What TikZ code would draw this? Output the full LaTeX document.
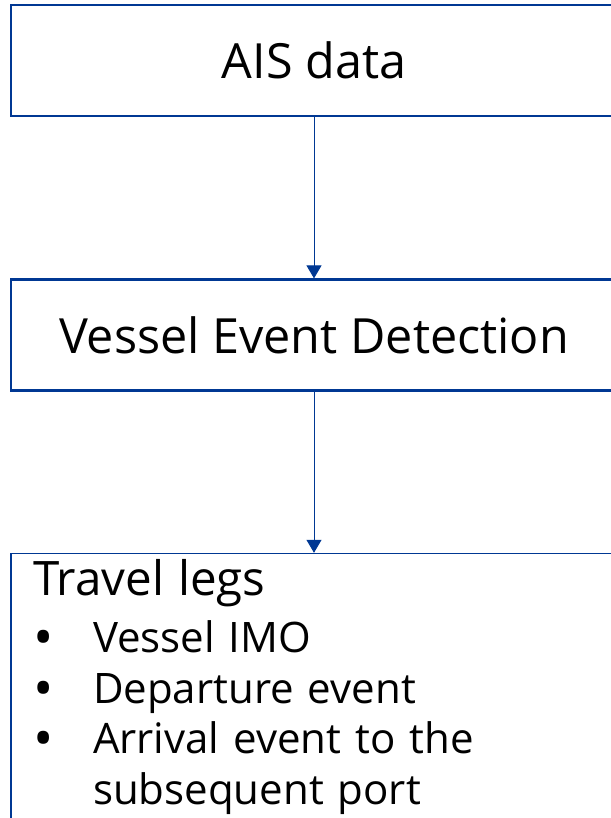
\documentclass[tikz,border=0pt]{standalone}
\usepackage{fontspec}
\setmainfont{Open Sans}
\usetikzlibrary{arrows.meta,positioning}
\definecolor{aisblue}{RGB}{0,56,147}
\newcommand{\legbullet}{\makebox[60pt][l]{\raisebox{-4pt}{\fontsize{54}{50.5}\selectfont\textbullet}}}

\begin{document}
\begin{tikzpicture}[x=1pt,y=-1pt,
  node distance=161pt,
  stage/.style={draw=aisblue,line width=2.4pt,minimum width=606pt,
    minimum height=111pt,inner sep=0pt,font=\fontsize{48.5}{52}\selectfont},
  legs/.style={draw=aisblue,line width=1.3pt,text width=562pt,align=left,
    inner xsep=22pt,inner ysep=6pt,text depth=260pt,
    font=\fontsize{42}{50.5}\selectfont},
  arrow/.style={-{Triangle[length=13pt,width=15pt]},line width=1pt,draw=aisblue}]
  \useasboundingbox (0,0) rectangle (610,818);
  \node[stage,anchor=north] (ais) at (314,4) {AIS data};
  \node[stage,below=of ais] (ved) {Vessel Event Detection};
  \node[legs,below=of ved] (legs) {{\fontsize{47.5}{50.5}\selectfont Travel legs}\\[6.5pt]
    \legbullet Vessel IMO\\
    \legbullet Departure event\\
    \legbullet Arrival event to the\\
    \hspace*{60pt}subsequent port};
  \draw[arrow] (ais)--(ved);
  \draw[arrow] (ved)--(legs);
\end{tikzpicture}
\end{document}
